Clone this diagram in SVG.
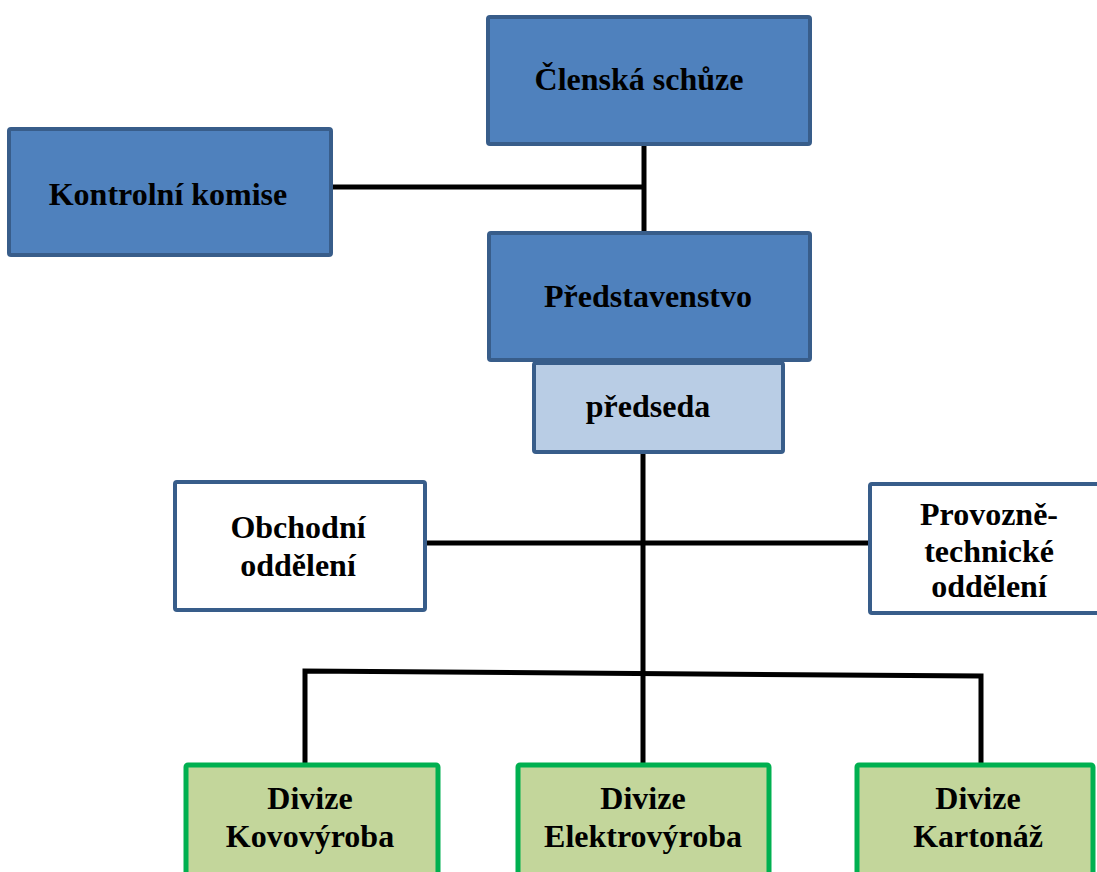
<svg xmlns="http://www.w3.org/2000/svg" width="1097" height="872" viewBox="0 0 1097 872">
<style>
.dark{fill:#4f81bd;stroke:#385d8a;stroke-width:4}
.light{fill:#b9cde5;stroke:#385d8a;stroke-width:4}
.white{fill:#ffffff;stroke:#385d8a;stroke-width:4}
.green{fill:#c3d69b;stroke:#00b050;stroke-width:5}
text{font-family:"Liberation Serif","Times New Roman",serif;font-weight:bold;font-size:32px;fill:#000;text-anchor:middle}
.conn{fill:none;stroke:#000;stroke-width:5}
</style>
<rect width="1097" height="872" fill="#ffffff"/>
<g id="connectors" class="conn">
<path d="M644 146 V233"/>
<path d="M333 187 H644"/>
<path d="M643 452 V763"/>
<path d="M426 543 H870"/>
<path d="M305 763 V671 L981 676 V763"/>
</g>
<g id="clenska-schuze"><rect class="dark" x="488" y="17" width="322" height="127" rx="2"/><text x="639" y="90">Členská schůze</text></g>
<g id="kontrolni-komise"><rect class="dark" x="9" y="129" width="322" height="126" rx="2"/><text x="168" y="205">Kontrolní komise</text></g>
<g id="predstavenstvo"><rect class="dark" x="489" y="233" width="321" height="127" rx="2"/><text x="648" y="307">Představenstvo</text></g>
<g id="predseda"><rect class="light" x="534" y="363" width="249" height="89" rx="2"/><text x="648" y="417">předseda</text></g>
<g id="obchodni-oddeleni"><rect class="white" x="175" y="482" width="250" height="128" rx="2"/><text x="298" y="538">Obchodní</text><text x="298" y="576">oddělení</text></g>
<g id="provozne-technicke-oddeleni"><rect class="white" x="870" y="484" width="240" height="129" rx="2"/><text x="989" y="525">Provozně-</text><text x="989" y="562">technické</text><text x="989" y="597">oddělení</text></g>
<g id="divize-kovovyroba"><rect class="green" x="186" y="765" width="252" height="120" rx="2"/><text x="310" y="809">Divize</text><text x="310" y="847">Kovovýroba</text></g>
<g id="divize-elektrovyroba"><rect class="green" x="518" y="765" width="251" height="120" rx="2"/><text x="643" y="809">Divize</text><text x="643" y="847">Elektrovýroba</text></g>
<g id="divize-kartonaz"><rect class="green" x="857" y="765" width="236" height="120" rx="2"/><text x="978" y="809">Divize</text><text x="978" y="847">Kartonáž</text></g>
</svg>
